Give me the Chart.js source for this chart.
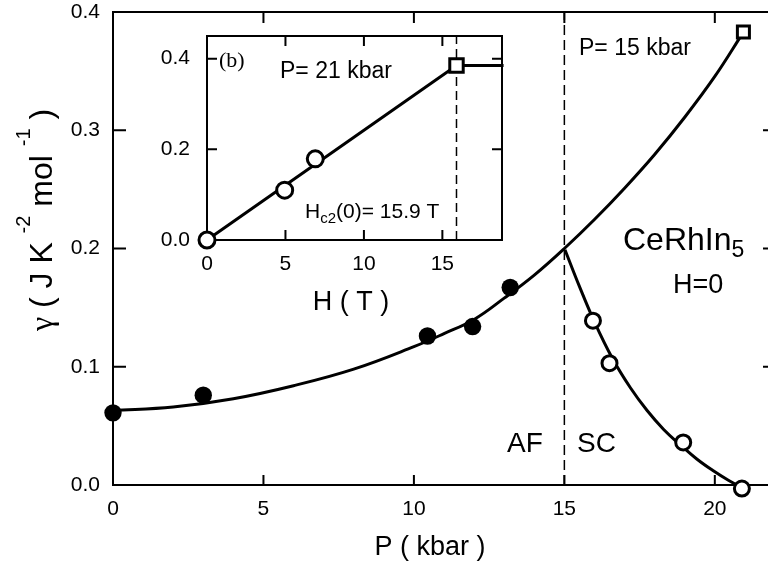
<!DOCTYPE html>
<html>
<head>
<meta charset="utf-8">
<script src="https://cdn.jsdelivr.net/npm/chart.js@4.4.1/dist/chart.umd.min.js"></script>
<style>
  html, body { margin: 0; padding: 0; background: #fff; overflow: hidden; }
  #wrap { position: relative; width: 768px; height: 565px; overflow: hidden; }
  #main { position: absolute; left: 0; top: 0; }
  #inset { position: absolute; left: 140px; top: 30px; }
</style>
</head>
<body>
<div id="wrap">
  <canvas id="main" width="780" height="565"></canvas>
  <canvas id="inset" width="380" height="290"></canvas>
</div>
<script>
// gamma(P) at H = 0, CeRhIn5
const afP = [0, 3, 10.45, 11.95, 13.2];
const afGamma = [0.061, 0.076, 0.126, 0.134, 0.167];
const scP = [15.95, 16.5, 18.95, 20.9];
const scGamma = [0.139, 0.103, 0.036, -0.003];
const hcP = [20.95];
const hcGamma = [0.383];

// guide curves through the AF and SC points
const afFitP = [0, 2, 4, 6, 8, 10, 11, 12, 13, 14, 15, 16, 17, 18, 19, 20, 20.95];
const afFitGamma = [0.063, 0.066, 0.073, 0.084, 0.098, 0.117, 0.128, 0.140, 0.158, 0.1775, 0.200, 0.2245, 0.251, 0.2795, 0.311, 0.3455, 0.383];
const scFitP = [15.02, 15.5, 16, 16.6, 17.2, 17.75, 18.3, 18.85, 19.4, 19.95, 20.45, 20.95];
const scFitGamma = [0.199, 0.168, 0.138, 0.107, 0.082, 0.063, 0.047, 0.034, 0.022, 0.012, 0.004, -0.003];
const boundaryP = 15;

// inset: gamma(H) at P = 21 kbar
const insetH = [0, 4.95, 6.9];
const insetGamma = [0.0, 0.11, 0.179];
const insetSqH = [15.9];
const insetSqGamma = [0.385];
const insetLineH = [0, 15.9, 18.9];
const insetLineGamma = [0, 0.385, 0.385];
const hc2 = 15.9;

const FONT = '"Liberation Sans", Arial, Helvetica, sans-serif';
function font(size) { return size + 'px ' + FONT; }
function xy(xs, ys) { return xs.map((v, i) => ({ x: v, y: ys[i] })); }

// text runs laid one after another, each may be shifted up/down
function drawRuns(ctx, runs, x, y, align) {
  let total = 0;
  runs.forEach(r => { ctx.font = r.font; r.w = ctx.measureText(r.text).width; total += r.w; });
  let cx = align === 'center' ? x - total / 2 : x;
  ctx.textAlign = 'left';
  ctx.textBaseline = 'alphabetic';
  runs.forEach(r => { ctx.font = r.font; ctx.fillText(r.text, cx, y + (r.dy || 0)); cx += r.w; });
}

// box round the plot area with inward tick marks on all four sides
function framePlugin(len) {
  return {
    id: 'frame',
    beforeDatasetsDraw(chart) {
      const { ctx, chartArea: a, scales: { x, y } } = chart;
      ctx.save();
      ctx.strokeStyle = '#000';
      ctx.lineWidth = 2;
      ctx.strokeRect(a.left, a.top, a.right - a.left, a.bottom - a.top);
      ctx.beginPath();
      x.ticks.forEach(t => {
        const px = x.getPixelForValue(t.value);
        if (px <= a.left + 1 || px >= a.right - 1) return;
        ctx.moveTo(px, a.bottom); ctx.lineTo(px, a.bottom - len.bottom);
        ctx.moveTo(px, a.top); ctx.lineTo(px, a.top + len.top);
      });
      y.ticks.forEach(t => {
        const py = y.getPixelForValue(t.value);
        if (py <= a.top + 1 || py >= a.bottom - 1) return;
        ctx.moveTo(a.left, py); ctx.lineTo(a.left + len.left, py);
        ctx.moveTo(a.right, py); ctx.lineTo(a.right - len.right, py);
      });
      ctx.stroke();
      ctx.restore();
    }
  };
}

// fixed axis box size, and no extra room for overhanging end labels
function fixSize(w, h) {
  return s => {
    if (w !== null) s.width = w;
    if (h !== null) s.height = h;
    s.paddingTop = 0; s.paddingBottom = 0;
    s.paddingLeft = 0; s.paddingRight = 0;
  };
}

function axis(min, max, step, pad, fit, fmt) {
  return {
    type: 'linear', min: min, max: max,
    grid: { display: false, drawTicks: false },
    border: { display: false },
    afterFit: fit,
    ticks: {
      stepSize: step, includeBounds: false, padding: pad, color: '#000',
      font: { family: FONT, size: 21 },
      callback: fmt
    }
  };
}

const lineStyle = { showLine: true, pointRadius: 0, borderColor: '#000', borderWidth: 3, tension: 0.4, clip: false, order: 2 };
const openCircle = { pointStyle: 'circle', pointRadius: 7.5, pointBorderWidth: 3, pointBorderColor: '#000', pointBackgroundColor: '#fff', clip: false, order: 0 };

const mainLabels = {
  id: 'mainLabels',
  afterDraw(chart) {
    const ctx = chart.ctx;
    ctx.save();
    ctx.fillStyle = '#000';
    drawRuns(ctx, [{ text: 'P= 15 kbar', font: font(23) }], 579, 55);
    drawRuns(ctx, [{ text: 'CeRhIn', font: font(32) }, { text: '5', font: font(23), dy: 7 }], 623, 250);
    drawRuns(ctx, [{ text: 'H=0', font: font(27) }], 673, 293);
    drawRuns(ctx, [{ text: 'AF', font: font(28) }], 507, 452);
    drawRuns(ctx, [{ text: 'SC', font: font(28) }], 577, 452);
    drawRuns(ctx, [{ text: 'P ( kbar )', font: font(27) }], 430, 555, 'center');
    ctx.translate(52, 220);
    ctx.rotate(-Math.PI / 2);
    drawRuns(ctx, [
      { text: '\u03b3', font: '32px "Liberation Serif", serif' },
      { text: ' ( J K ', font: font(32) },
      { text: '-2', font: font(20), dy: -22 },
      { text: ' mol ', font: font(32) },
      { text: '-1', font: font(20), dy: -22 },
      { text: ' )', font: font(32) }
    ], 0, 0, 'center');
    ctx.restore();
  }
};

new Chart(document.getElementById('main'), {
  type: 'scatter',
  data: {
    datasets: [
      { data: xy(afP, afGamma), pointStyle: 'circle', pointRadius: 8.7, pointBorderWidth: 0, pointBackgroundColor: '#000', clip: false, order: 0 },
      Object.assign({ data: xy(scP, scGamma) }, openCircle),
      { data: xy(hcP, hcGamma), pointStyle: 'rect', pointRadius: 8.5, pointBorderWidth: 3, pointBorderColor: '#000', pointBackgroundColor: '#fff', clip: false, order: 0 },
      Object.assign({ data: xy(afFitP, afFitGamma) }, lineStyle),
      Object.assign({ data: xy(scFitP, scFitGamma) }, lineStyle),
      { data: xy([boundaryP, boundaryP], [0, 0.4]), showLine: true, pointRadius: 0, borderColor: '#000', borderWidth: 1.5, borderDash: [10, 5], order: 3 }
    ]
  },
  options: {
    responsive: false, animation: false, devicePixelRatio: 1,
    layout: { padding: { left: 0, right: 5, top: 12, bottom: 0 }, autoPadding: false },
    plugins: { legend: { display: false }, tooltip: { enabled: false } },
    scales: {
      x: axis(0, 22, 5, 12, fixSize(null, 80), v => v),
      y: axis(0, 0.4, 0.1, 13, fixSize(113, null), v => v.toFixed(1))
    }
  },
  plugins: [framePlugin({ left: 13, right: 12, top: 11, bottom: 10 }), mainLabels]
});

const insetLabels = {
  id: 'insetLabels',
  afterDraw(chart) {
    const ctx = chart.ctx;
    ctx.save();
    ctx.fillStyle = '#000';
    drawRuns(ctx, [{ text: '(b)', font: '22px "Liberation Serif", serif' }], 79, 37);
    drawRuns(ctx, [{ text: 'P= 21 kbar', font: font(23) }], 140, 48);
    drawRuns(ctx, [
      { text: 'H', font: font(21) },
      { text: 'c2', font: font(15), dy: 5 },
      { text: '(0)= 15.9 T', font: font(21) }
    ], 165, 188);
    drawRuns(ctx, [{ text: 'H ( T )', font: font(27) }], 211, 280, 'center');
    ctx.restore();
  }
};

new Chart(document.getElementById('inset'), {
  type: 'scatter',
  data: {
    datasets: [
      Object.assign({ data: xy(insetH, insetGamma) }, openCircle, { pointRadius: 8 }),
      { data: xy(insetSqH, insetSqGamma), pointStyle: 'rect', pointRadius: 9.5, pointBorderWidth: 3, pointBorderColor: '#000', pointBackgroundColor: '#fff', clip: false, order: 0 },
      Object.assign({ data: xy(insetLineH, insetLineGamma) }, lineStyle, { tension: 0 }),
      { data: xy([hc2, hc2], [0, 0.45]), showLine: true, pointRadius: 0, borderColor: '#000', borderWidth: 1.5, borderDash: [9, 5], order: 3 }
    ]
  },
  options: {
    responsive: false, animation: false, devicePixelRatio: 1,
    layout: { padding: { left: 0, right: 18, top: 6, bottom: 0 }, autoPadding: false },
    plugins: { legend: { display: false }, tooltip: { enabled: false } },
    scales: {
      x: axis(0, 18.8, 5, 12, fixSize(null, 80), v => v),
      y: axis(0, 0.45, 0.2, 17, fixSize(67, null), v => v.toFixed(1))
    }
  },
  plugins: [framePlugin({ left: 10, right: 10, top: 10, bottom: 10 }), insetLabels]
});
</script>
</body>
</html>
